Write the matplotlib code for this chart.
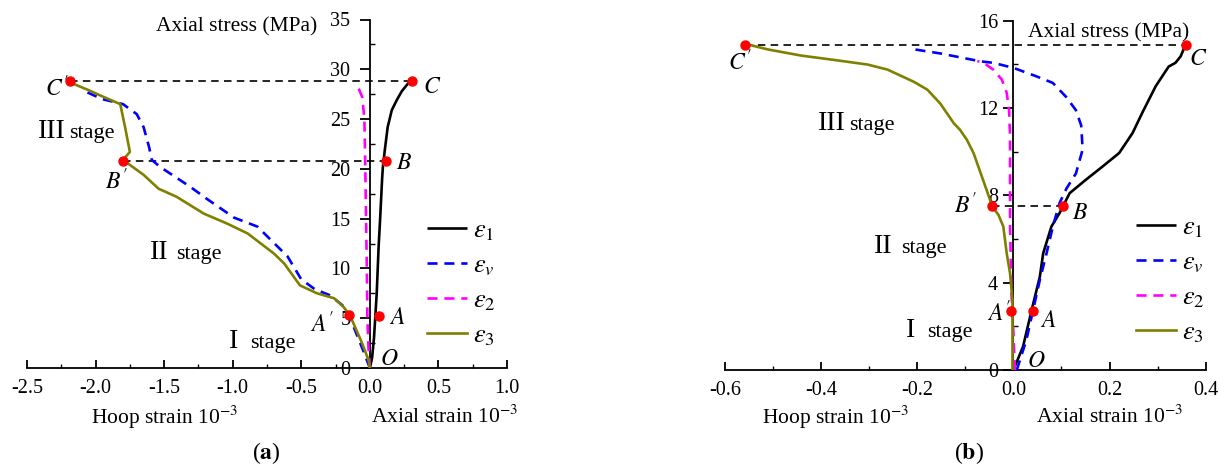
import matplotlib
matplotlib.use("Agg")
import matplotlib.pyplot as plt
from matplotlib.ticker import MultipleLocator

plt.rcParams['font.family'] = ['Liberation Serif', 'DejaVu Serif']
plt.rcParams['mathtext.fontset'] = 'stix'
plt.rcParams['axes.unicode_minus'] = False

# ---------------- panel (a) data ----------------
a_e1_x = [0.0, 0.016, 0.03, 0.04, 0.05, 0.064, 0.075, 0.089, 0.095, 0.11, 0.13, 0.16, 0.196, 0.233, 0.28, 0.31]
a_e1_y = [0, 1.0, 3.0, 5.2, 7.5, 12.2, 15.0, 18.9, 20.2, 22.0, 24.2, 25.9, 26.9, 27.8, 28.6, 28.8]

a_ev_x = [0, -0.05, -0.12, -0.2, -0.29, -0.4, -0.5, -0.6, -0.82, -0.99, -1.19, -1.31, -1.53, -1.59,
          -1.61, -1.65, -1.70, -1.80, -1.95, -2.08]
a_ev_y = [0, 1.8, 4.2, 6.3, 7.3, 7.9, 8.9, 11.2, 14.2, 15.1, 17.0, 18.2, 20.2, 20.9,
          22.2, 24.2, 25.5, 26.5, 27.0, 27.8]

a_e2_x = [0, -0.01, -0.018, -0.022, -0.028, -0.033, -0.04, -0.055, -0.08, -0.11]
a_e2_y = [0, 2.0, 5.0, 10.0, 15.0, 20.0, 25.0, 27.2, 28.0, 28.6]

a_e3_x = [0, -0.01, -0.057, -0.12, -0.147, -0.19, -0.26, -0.385, -0.51, -0.625, -0.7, -0.89, -1.04,
          -1.21, -1.41, -1.54, -1.65, -1.75, -1.80, -1.75, -1.785, -1.82, -1.97, -2.05, -2.19]
a_e3_y = [0, 0.8, 2.5, 4.5, 5.3, 6.1, 7.0, 7.5, 8.3, 10.5, 11.5, 13.5, 14.5,
          15.5, 17.2, 18.0, 19.4, 20.4, 20.9, 21.7, 24.2, 26.5, 27.4, 27.9, 28.7]

a_pt_names = ["C'", "C", "B'", "B", "A'", "A"]
a_pt_x = [-2.19, 0.31, -1.80, 0.115, -0.15, 0.065]
a_pt_y = [28.8, 28.8, 20.8, 20.8, 5.3, 5.2]

# ---------------- panel (b) data ----------------
b_e1_x = [0.0, 0.02, 0.038, 0.055, 0.062, 0.079, 0.096, 0.104, 0.117, 0.151, 0.186, 0.22, 0.248,
          0.268, 0.296, 0.323, 0.337, 0.348, 0.358]
b_e1_y = [0, 1.07, 2.75, 4.28, 5.35, 6.57, 7.19, 7.54, 8.1, 8.72, 9.33, 9.94, 10.86,
          11.78, 13.0, 13.9, 14.07, 14.37, 14.9]

b_ev_x = [0.007, 0.027, 0.041, 0.055, 0.069, 0.082, 0.096, 0.11, 0.13, 0.144, 0.141, 0.13, 0.11,
          0.082, 0.048, 0.0, -0.042, -0.069, -0.152, -0.21]
b_ev_y = [0, 1.38, 2.75, 4.13, 5.35, 6.57, 7.65, 8.3, 9.0, 10.1, 11.2, 11.9, 12.5,
          13.15, 13.45, 13.84, 14.07, 14.14, 14.5, 14.7]

b_e2_x = [0.003, 0.0, -0.004, -0.007, -0.007, -0.007, -0.009, -0.014, -0.024, -0.042, -0.062, -0.075]
b_e2_y = [0, 1.7, 3.5, 6.6, 7.8, 10.7, 11.9, 12.7, 13.3, 13.76, 14.07, 14.15]

b_e3_x = [-0.002, -0.002, -0.002, -0.007, -0.014, -0.021, -0.031, -0.044, -0.056, -0.083, -0.097,
          -0.111, -0.124, -0.152, -0.179, -0.207, -0.262, -0.303, -0.372, -0.441, -0.51, -0.558]
b_e3_y = [0, 2.0, 3.2, 4.43, 5.35, 6.57, 7.1, 7.49, 8.26, 9.94, 10.55,
          11.0, 11.3, 12.2, 12.84, 13.2, 13.76, 13.99, 14.2, 14.4, 14.68, 14.94]

b_pt_names = ["C'", "C", "B'", "B", "A'", "A"]
b_pt_x = [-0.558, 0.358, -0.044, 0.104, -0.005, 0.041]
b_pt_y = [14.9, 14.9, 7.5, 7.5, 2.7, 2.7]

legend_labels = [r'$\varepsilon_1$', r'$\varepsilon_v$', r'$\varepsilon_2$', r'$\varepsilon_3$']

COL_E1 = 'black'
COL_EV = '#0000FF'
COL_E2 = '#FF00FF'
COL_E3 = '#808000'

fig = plt.figure(figsize=(12.26, 4.68), dpi=100)
axA = fig.add_axes([27 / 1226, 100 / 468, 480 / 1226, 348.5 / 468])
axB = fig.add_axes([725 / 1226, 98 / 468, 480.7 / 1226, 349.3 / 468])


def style_axes(ax, xlim, ylim, xmaj, xmin, ymaj, ymin, ypad):
    ax.set_xlim(*xlim)
    ax.set_ylim(*ylim)
    for s in ['top', 'right']:
        ax.spines[s].set_visible(False)
    ax.spines['left'].set_position(('data', 0))
    ax.spines['left'].set_linewidth(1.3)
    ax.spines['bottom'].set_linewidth(1.3)
    ax.xaxis.set_major_locator(MultipleLocator(xmaj))
    ax.xaxis.set_minor_locator(MultipleLocator(xmin))
    ax.yaxis.set_major_locator(MultipleLocator(ymaj))
    ax.yaxis.set_minor_locator(MultipleLocator(ymin))
    ax.tick_params(axis='x', which='major', direction='in', length=6, width=1.3, pad=8, labelsize=14.5)
    ax.tick_params(axis='x', which='minor', direction='in', length=3, width=1.0)
    ax.tick_params(axis='y', which='major', direction='out', length=7, width=1.3, pad=ypad, labelsize=14.5)
    ax.tick_params(axis='y', which='minor', direction='in', length=3.5, width=1.0)
    ax.patch.set_alpha(0)


def draw_panel(ax, e1x, e1y, evx, evy, e2x, e2y, e3x, e3y, names, px, py):
    h1, = ax.plot(e1x, e1y, color=COL_E1, lw=1.9, solid_capstyle='butt', zorder=3)
    hv, = ax.plot(evx, evy, color=COL_EV, lw=1.9, dashes=[3.8, 2.6], zorder=3)
    h2, = ax.plot(e2x, e2y, color=COL_E2, lw=1.9, dashes=[3.8, 2.6], zorder=3)
    h3, = ax.plot(e3x, e3y, color=COL_E3, lw=1.9, zorder=3)
    # dashed guide lines joining C'-C and B'-B
    for i in (0, 2):
        ax.plot([px[i], px[i + 1]], [py[i + 1], py[i + 1]], color='black', lw=1.2,
                dashes=[4.5, 3.2], zorder=2)
    ax.plot(px, py, 'o', color='#FF0000', ms=6.5, zorder=5, clip_on=False)
    return [h1, hv, h2, h3]


def label(ax, x, y, s):
    letter = s[0]
    if len(s) > 1:
        txt = r'$\mathit{%s}^{\prime}$' % letter
    else:
        txt = r'$\mathit{%s}$' % letter
    ax.text(x, y, txt, fontsize=17, ha='center', va='center', zorder=6)


# ---------------- panel (a) ----------------
style_axes(axA, (-2.5, 1.0), (0, 35), 0.5, 0.25, 5, 2.5, 7)
hA = draw_panel(axA, a_e1_x, a_e1_y, a_ev_x, a_ev_y, a_e2_x, a_e2_y, a_e3_x, a_e3_y,
                a_pt_names, a_pt_x, a_pt_y)
axA.text(-0.38, 34.3, 'Axial stress (MPa)', fontsize=15.5, ha='right', va='center')
for (x, y, s) in [(-2.28, 28.1, "C'"), (0.454, 28.2, "C"), (-1.85, 18.7, "B'"), (0.25, 20.5, "B"),
                  (-0.35, 4.4, "A'"), (0.2, 5.0, "A"), (0.142, 0.87, "O")]:
    label(axA, x, y, s)
for (xn, xs, yb, num) in [(-2.42, -2.19, 23.1, 'III'), (-1.605, -1.41, 10.9, 'II'), (-1.03, -0.87, 2.0, 'I')]:
    axA.text(xn, yb, num, fontsize=20, ha='left', va='baseline')
    axA.text(xs, yb, 'stage', fontsize=16, ha='left', va='baseline')
axA.legend(hA, legend_labels, loc='upper left', bbox_to_anchor=(0.417, 15.0),
           bbox_transform=axA.transData, frameon=False, fontsize=19, handlelength=1.5,
           handletextpad=0.25, labelspacing=0.42, borderpad=0, borderaxespad=0)

# ---------------- panel (b) ----------------
style_axes(axB, (-0.6, 0.4), (0, 16), 0.2, 0.1, 4, 2, 4)
hB = draw_panel(axB, b_e1_x, b_e1_y, b_ev_x, b_ev_y, b_e2_x, b_e2_y, b_e3_x, b_e3_y,
                b_pt_names, b_pt_x, b_pt_y)
axB.text(0.03, 15.45, 'Axial stress (MPa)', fontsize=15.5, ha='left', va='center')
for (x, y, s) in [(-0.568, 14.1, "C'"), (0.384, 14.2, "C"), (-0.1, 7.55, "B'"), (0.139, 7.19, "B"),
                  (-0.03, 2.6, "A'"), (0.072, 2.22, "A"), (0.047, 0.38, "O")]:
    label(axB, x, y, s)
for (xn, xs, yb, num) in [(-0.406, -0.342, 11.0, 'III'), (-0.29, -0.234, 5.38, 'II'), (-0.224, -0.18, 1.53, 'I')]:
    axB.text(xn, yb, num, fontsize=20, ha='left', va='baseline')
    axB.text(xs, yb, 'stage', fontsize=16, ha='left', va='baseline')
axB.legend(hB, legend_labels, loc='upper left', bbox_to_anchor=(0.255, 7.08),
           bbox_transform=axB.transData, frameon=False, fontsize=19, handlelength=1.5,
           handletextpad=0.25, labelspacing=0.42, borderpad=0, borderaxespad=0)

# ---------------- axis captions ----------------
def ftext(xpx, ypx, s, **kw):
    fig.text(xpx / 1226, 1 - ypx / 468, s, ha='center', va='center', **kw)

ftext(164, 417, r'Hoop strain 10$^{-3}$', fontsize=15.5)
ftext(444, 417, r'Axial strain 10$^{-3}$', fontsize=15.5)
ftext(266, 453, r'($\mathbf{a}$)', fontsize=17)
ftext(835, 417, r'Hoop strain 10$^{-3}$', fontsize=15.5)
ftext(1109, 417, r'Axial strain 10$^{-3}$', fontsize=15.5)
ftext(969, 453, r'($\mathbf{b}$)', fontsize=17)

fig.savefig('out.png', dpi=100)
